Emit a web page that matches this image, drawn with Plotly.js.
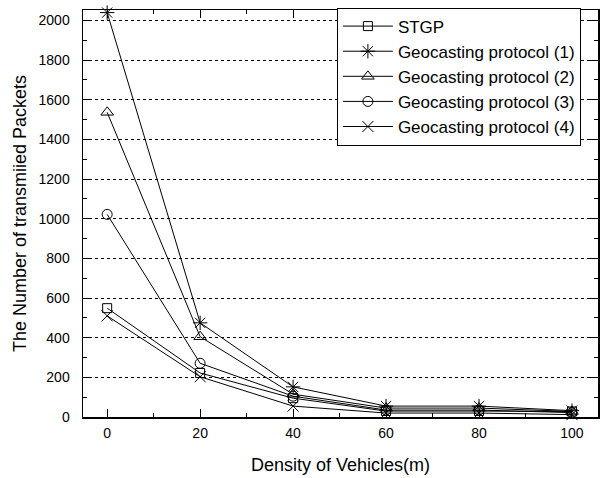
<!DOCTYPE html>
<html>
<head>
<meta charset="utf-8">
<script src="https://cdn.plot.ly/plotly-3.0.1.min.js"></script>
<style>
  html, body { margin: 0; padding: 0; background: #fff; }
  #chart { width: 600px; height: 478px; }
</style>
</head>
<body>
<div id="chart"></div>
<script>
// Vehicle density (x) and transmitted packet counts per protocol
const density = [0, 20, 40, 60, 80, 100];
const stgp = [549, 222, 95, 30, 30, 28];
const geo1 = [2040, 475, 152, 55, 55, 32];
const geo2 = [1537, 405, 115, 45, 45, 28];
const geo3 = [1022, 271, 105, 35, 35, 22];
const geo4 = [510, 203, 55, 20, 20, 12];

const seriesNames = ['STGP', 'Geocasting protocol (1)', 'Geocasting protocol (2)',
                     'Geocasting protocol (3)', 'Geocasting protocol (4)'];
const seriesValues = [stgp, geo1, geo2, geo3, geo4];
const symbols = ['square-open', 'asterisk-open', 'triangle-up-open', 'circle-open', 'x-thin-open'];
const sizes = [9, 12, 11, 10, 11];

const traces = seriesValues.map((vals, i) => ({
  x: density,
  y: vals,
  name: seriesNames[i],
  type: 'scatter',
  mode: 'lines+markers',
  line: { color: '#000', width: 1 },
  marker: { symbol: symbols[i], size: sizes[i], color: '#000', line: { color: '#000', width: 1 } },
  cliponaxis: false
}));

const font = { family: 'Liberation Sans, Arial, sans-serif', color: '#000' };

const layout = {
  width: 600,
  height: 478,
  margin: { l: 83, r: 2, t: 10, b: 61 },
  paper_bgcolor: '#fff',
  plot_bgcolor: '#fff',
  font: Object.assign({ size: 14 }, font),
  showlegend: true,
  legend: {
    x: 0.493, y: 1.006, xanchor: 'left', yanchor: 'top',
    bgcolor: '#fff', bordercolor: '#000', borderwidth: 1,
    font: Object.assign({ size: 17 }, font),
    itemwidth: 50,
    tracegroupgap: 0
  },
  xaxis: {
    range: [-5.2, 105.6],
    tickvals: [0, 20, 40, 60, 80, 100],
    ticks: 'inside', ticklen: 8, tickwidth: 1, tickcolor: '#000',
    minor: { ticks: 'inside', ticklen: 4, tickvals: [10, 30, 50, 70, 90], tickcolor: '#000' },
    showline: true, linecolor: '#000', linewidth: 1.5, mirror: 'ticks',
    showgrid: false, zeroline: false,
    tickfont: Object.assign({ size: 14 }, font),
    ticklabelstandoff: 3,
    title: { text: 'Density of Vehicles(m)', font: Object.assign({ size: 18 }, font), standoff: 18 }
  },
  yaxis: {
    range: [0, 2053],
    tickvals: [0, 200, 400, 600, 800, 1000, 1200, 1400, 1600, 1800, 2000],
    ticks: 'inside', ticklen: 8, tickwidth: 1, tickcolor: '#000',
    minor: { ticks: 'inside', ticklen: 4, tickvals: [100, 300, 500, 700, 900, 1100, 1300, 1500, 1700, 1900], tickcolor: '#000', showgrid: false },
    showline: true, linecolor: '#000', linewidth: 1.5, mirror: 'ticks',
    showgrid: true, gridcolor: '#000', gridwidth: 1, griddash: 'dot',
    zeroline: false,
    tickfont: Object.assign({ size: 14 }, font),
    ticklabelstandoff: 9,
    title: { text: 'The Number of transmiied Packets', font: Object.assign({ size: 18 }, font), standoff: 7 }
  }
};

Plotly.newPlot('chart', traces, layout, { displayModeBar: false, staticPlot: true });
</script>
</body>
</html>
